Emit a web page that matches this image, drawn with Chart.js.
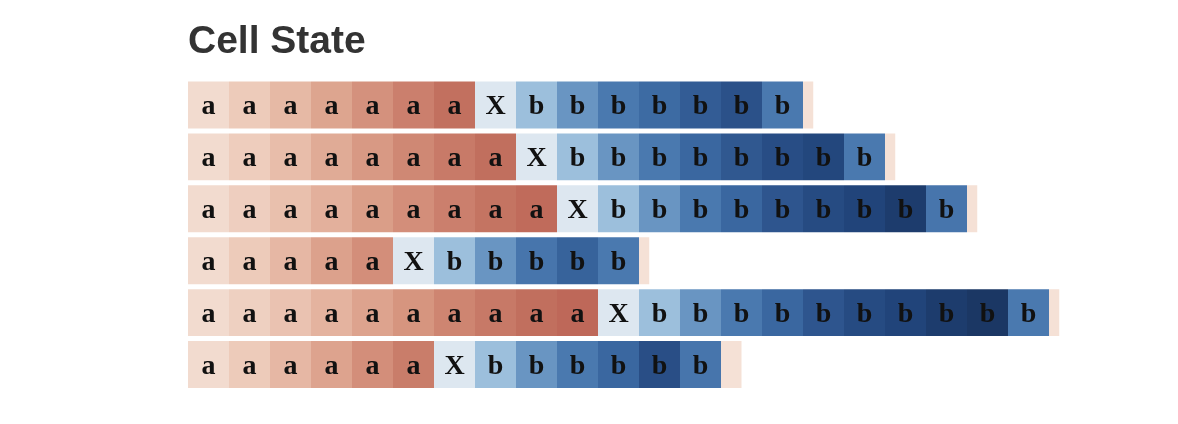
<!DOCTYPE html>
<html><head><meta charset="utf-8">
<script src="https://cdn.jsdelivr.net/npm/chart.js@4"></script>
<style>html,body{margin:0;padding:0;background:#fff}</style>
</head><body>
<canvas id="c" width="1178" height="424"></canvas>
<script>
const chartTitle = 'Cell State';
const rowTexts = [
  'aaaaaaaXbbbbbbb\n',
  'aaaaaaaaXbbbbbbbb\n',
  'aaaaaaaaaXbbbbbbbbb\n',
  'aaaaaXbbbbb\n',
  'aaaaaaaaaaXbbbbbbbbbb\n',
  'aaaaaaXbbbbbb\n'
];
const rowLabels = ['seq1', 'seq2', 'seq3', 'seq4', 'seq5', 'seq6'];
// cell state value per character (+ = red, - = blue)
const state1 = [0.15, 0.28, 0.41, 0.54, 0.66, 0.78, 0.90, -0.10, -0.35, -0.50, -0.60, -0.68, -0.75, -0.80, -0.60, 0.10];
const state2 = [0.15, 0.26, 0.38, 0.50, 0.61, 0.72, 0.82, 0.91, -0.10, -0.35, -0.50, -0.60, -0.70, -0.77, -0.83, -0.88, -0.60, 0.10];
const state3 = [0.15, 0.25, 0.36, 0.47, 0.58, 0.68, 0.78, 0.87, 0.94, -0.10, -0.35, -0.50, -0.60, -0.70, -0.78, -0.85, -0.90, -0.95, -0.62, 0.10];
const state4 = [0.15, 0.28, 0.42, 0.56, 0.68, -0.10, -0.35, -0.50, -0.62, -0.72, -0.60, 0.10];
const state5 = [0.15, 0.24, 0.34, 0.45, 0.55, 0.64, 0.74, 0.83, 0.91, 0.97, -0.10, -0.35, -0.50, -0.60, -0.70, -0.78, -0.85, -0.90, -0.95, -0.98, -0.60, 0.10];
const state6 = [0.15, 0.28, 0.42, 0.55, 0.68, 0.80, -0.10, -0.35, -0.50, -0.60, -0.70, -0.82, -0.62, 0.10];
const newlineWidths = [0.25, 0.25, 0.25, 0.25, 0.25, 0.5];
const xMax = 24;

const states = [state1, state2, state3, state4, state5, state6];

const redStops = [[0, '#f8ede7'], [0.1, '#f5e1d6'], [0.15, '#f2dbcf'], [0.3, '#ecc8b7'], [0.45, '#e4b39f'], [0.6, '#d99b85'], [0.75, '#cd8370'], [0.9, '#c2705f'], [1, '#bc6456']];
const blueStops = [[0, '#eef3f7'], [0.1, '#dde7f0'], [0.35, '#9cbfdc'], [0.5, '#6995c2'], [0.6, '#4a79af'], [0.7, '#3a67a0'], [0.8, '#2b5189'], [0.9, '#21447a'], [1, '#19345f']];
function hex(h){return [1,3,5].map(i=>parseInt(h.substr(i,2),16));}
function interp(stops, t){
  t = Math.max(0, Math.min(1, t));
  for (let i = 1; i < stops.length; i++) {
    if (t <= stops[i][0]) {
      const [t0, c0] = stops[i-1], [t1, c1] = stops[i];
      const f = (t - t0) / (t1 - t0);
      const a = hex(c0), b = hex(c1);
      return 'rgb(' + a.map((v, k) => Math.round(v + (b[k] - v) * f)).join(',') + ')';
    }
  }
  return stops[stops.length-1][1];
}
function stateColor(v){ return v >= 0 ? interp(redStops, v) : interp(blueStops, -v); }

const maxLen = Math.max(...rowTexts.map(r => r.length));
const datasets = [];
for (let j = 0; j < maxLen; j++) {
  datasets.push({
    data: rowTexts.map((r, i) => j < r.length ? (r[j] === '\n' ? newlineWidths[i] : 1) : null),
    backgroundColor: rowTexts.map((r, i) => j < r.length ? stateColor(states[i][j]) : 'rgba(0,0,0,0)'),
    borderWidth: 0,
    barPercentage: 47 / 52,
    categoryPercentage: 1
  });
}

const charPlugin = {
  id: 'chars',
  afterDatasetsDraw(chart) {
    const ctx = chart.ctx;
    ctx.save();
    ctx.font = 'bold 28px "Liberation Serif", serif';
    ctx.fillStyle = '#111';
    ctx.textAlign = 'center';
    ctx.textBaseline = 'alphabetic';
    chart.data.datasets.forEach((ds, j) => {
      const meta = chart.getDatasetMeta(j);
      meta.data.forEach((el, i) => {
        const ch = rowTexts[i][j];
        if (!ch || ch === '\n') return;
        const p = el.getProps(['x', 'base', 'y'], true);
        ctx.fillText(ch, (p.x + p.base) / 2, p.y + 9);
      });
    });
    ctx.restore();
  }
};

new Chart(document.getElementById('c'), {
  type: 'bar',
  data: { labels: rowLabels, datasets },
  options: {
    indexAxis: 'y',
    responsive: false,
    animation: false,
    devicePixelRatio: 1,
    layout: { padding: { left: 188, right: 6, top: 0, bottom: 33.5 } },
    scales: {
      x: { stacked: true, min: 0, max: xMax, display: false },
      y: { stacked: true, display: false }
    },
    plugins: {
      legend: { display: false },
      tooltip: { enabled: false },
      title: {
        display: true, text: chartTitle, align: 'start', color: '#333',
        font: { family: '"Liberation Sans", Arial, Helvetica, sans-serif', size: 39, weight: 'bold', lineHeight: 1.2 },
        padding: { top: 18.5, bottom: 13.7 }
      }
    }
  },
  plugins: [charPlugin]
});
</script>
</body></html>
